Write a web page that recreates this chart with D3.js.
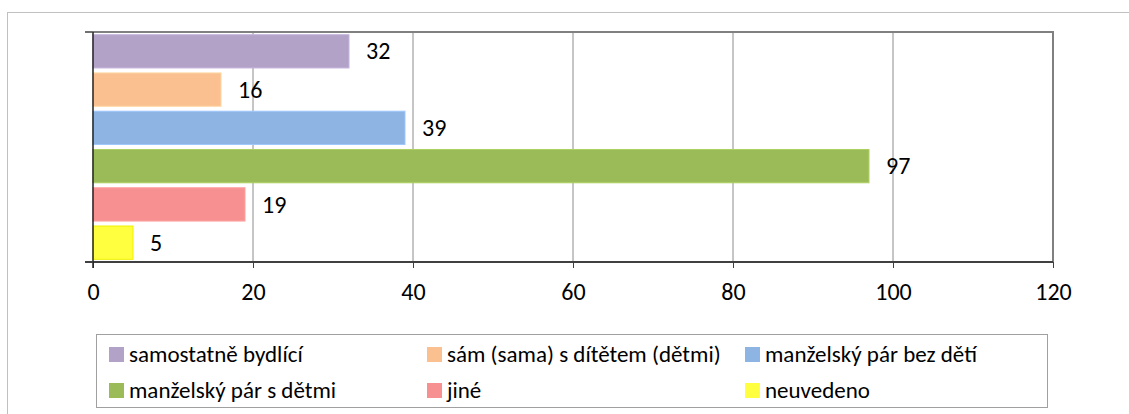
<!DOCTYPE html>
<html>
<head>
<meta charset="utf-8">
<script src="https://cdn.jsdelivr.net/npm/d3@7"></script>
<style>
  body { margin: 0; background: #fff; }
  svg { font-family: Carlito, Lato, "Open Sans", sans-serif; }
</style>
</head>
<body>
<svg></svg>
<script>
var width = 1129;
var height = 414;

var categories = ["samostatně bydlící", "sám (sama) s dítětem (dětmi)", "manželský pár bez dětí",
                  "manželský pár s dětmi", "jiné", "neuvedeno"];
var values = [32, 16, 39, 97, 19, 5];
var colors = ["#b2a2c7", "#fac090", "#8eb4e3", "#9bbb59", "#f79191", "#ffff40"];
var xTicks = [0, 20, 40, 60, 80, 100, 120];

var svg = d3.select("svg")
            .attr("width", width)
            .attr("height", height);

// outer chart frame
svg.append("rect")
   .attr("x", 7.5).attr("y", 12.5)
   .attr("width", 1140).attr("height", 420)
   .attr("fill", "none").attr("stroke", "#c0c0c0");

var plot = { left: 93, right: 1053, top: 32, bottom: 262 };

var x = d3.scaleLinear().domain([0, 120]).range([plot.left, plot.right]);
var y = d3.scaleBand().domain(categories).range([plot.top, plot.bottom])
          .paddingInner(0.13).paddingOuter(0.07);

// gridlines
svg.selectAll(".grid")
   .data(xTicks.slice(1, -1))
   .enter()
   .append("line")
     .attr("x1", d => x(d)).attr("x2", d => x(d))
     .attr("y1", plot.top).attr("y2", plot.bottom)
     .attr("stroke", "#8c8c8c").attr("stroke-width", 1);

// plot border (top + right)
svg.append("path")
   .attr("d", `M${plot.left},${plot.top}H${plot.right}V${plot.bottom}`)
   .attr("fill", "none").attr("stroke", "#808080").attr("stroke-width", 2);

// bars
svg.selectAll(".bar")
   .data(values)
   .enter()
   .append("rect")
     .attr("x", x(0))
     .attr("y", (d, i) => y(categories[i]))
     .attr("width", d => x(d) - x(0))
     .attr("height", y.bandwidth())
     .attr("fill", (d, i) => colors[i])
     .attr("stroke", (d, i) => i == 5 ? "#f0f000" : d3.color(colors[i]).brighter(0.3))
     .attr("stroke-width", 1);

// value labels
svg.selectAll(".lbl")
   .data(values)
   .enter()
   .append("text")
     .attr("x", d => x(d) + 17)
     .attr("y", (d, i) => y(categories[i]) + y.bandwidth() / 2)
     .attr("dy", "0.34em")
     .style("font-size", "24px")
     .attr("fill", "#000")
     .text(d => d);

// x axis
var xAxis = d3.axisBottom(x).tickValues(xTicks).tickSize(6).tickPadding(15);
var gx = svg.append("g")
   .attr("transform", `translate(0,${plot.bottom})`)
   .call(xAxis);
gx.attr("font-family", null).attr("font-size", null);
gx.select(".domain").attr("stroke", "#404040").attr("stroke-width", 2)
  .attr("d", `M${plot.left - 8},0H${plot.right}`);
gx.selectAll(".tick line").attr("stroke", "#404040");
gx.selectAll(".tick text").style("font-size", "24px").attr("fill", "#000");

// y axis line with end ticks
svg.append("line")
   .attr("x1", plot.left).attr("x2", plot.left)
   .attr("y1", plot.top).attr("y2", plot.bottom + 6)
   .attr("stroke", "#222").attr("stroke-width", 1.5);
svg.selectAll(".ytick")
   .data([plot.top, plot.bottom])
   .enter()
   .append("line")
     .attr("x1", plot.left - 8).attr("x2", plot.left)
     .attr("y1", d => d).attr("y2", d => d)
     .attr("stroke", "#404040").attr("stroke-width", 1.5);

// legend
svg.append("rect")
   .attr("x", 96.5).attr("y", 334.5)
   .attr("width", 951).attr("height", 73)
   .attr("fill", "none").attr("stroke", "#a0a0a0");

var legendCols = [109, 427, 745];
var legendRows = [354.5, 390.5];

var legend = svg.selectAll(".legend")
   .data(categories)
   .enter()
   .append("g")
     .attr("transform", (d, i) => `translate(${legendCols[i % 3]},${legendRows[Math.floor(i / 3)]})`);

legend.append("rect")
   .attr("x", 0).attr("y", -7.5)
   .attr("width", 15).attr("height", 15)
   .attr("fill", (d, i) => colors[i]);

legend.append("text")
   .attr("x", 20).attr("dy", "0.33em")
   .style("font-size", "23px")
   .attr("fill", "#000")
   .text(d => d);
</script>
</body>
</html>
